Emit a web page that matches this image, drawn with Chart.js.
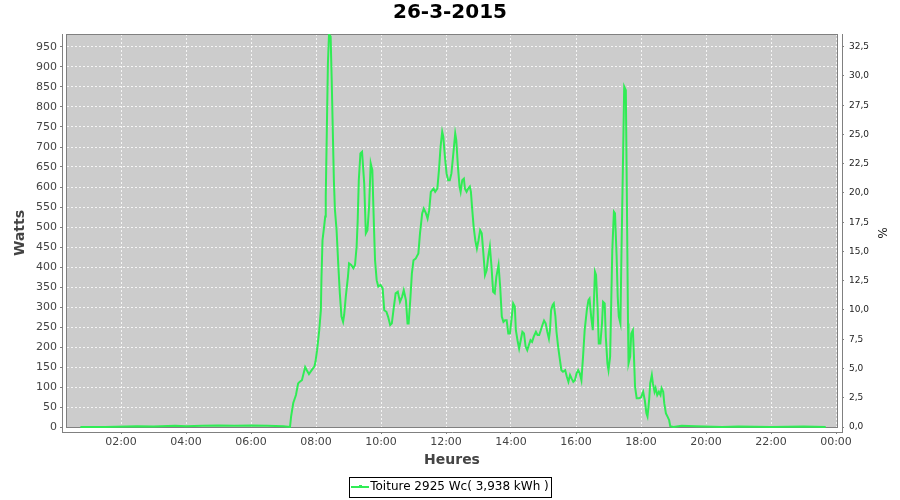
<!DOCTYPE html>
<html>
<head>
<meta charset="utf-8">
<script src="https://cdn.jsdelivr.net/npm/chart.js@4.4.1/dist/chart.umd.min.js"></script>
<style>
html,body{margin:0;padding:0;background:#ffffff;}
#wrap{width:900px;height:500px;}
</style>
</head>
<body>
<div id="wrap"><canvas id="c" width="900" height="500"></canvas></div>
<script>
const chartTitle = '26-3-2015';
const seriesLabel = 'Toiture 2925 Wc( 3,938 kWh )';
const peakPower = 2925; // Wc, 100 % on the right axis
const xTitle = 'Heures';
const yTitle = 'Watts';
const y2Title = '%';

const times = [
 '00:45','01:30','02:30','03:00','03:40','04:00','04:30','05:00','05:30','06:00','06:30','07:00',
 '07:12','07:14','07:18','07:23','07:27','07:30','07:34','07:40','07:43','07:47','07:52','07:57','07:59',
 '08:02','08:04','08:06','08:09','08:10','08:12','08:15','08:17','08:18','08:20','08:22','08:24','08:27','08:29',
 '08:31','08:33','08:35','08:38','08:41','08:44','08:47','08:50','08:52','08:55','08:59',
 '09:01','09:05','09:09','09:12','09:15','09:17','09:19','09:22','09:25','09:29','09:32','09:35','09:38','09:41','09:44','09:47','09:49','09:52','09:55','09:59',
 '10:03','10:06','10:10','10:13','10:17','10:20','10:23','10:27','10:31','10:35','10:39','10:42','10:46','10:49','10:51','10:54','10:57',
 '11:00','11:04','11:09','11:12','11:16','11:19','11:23','11:26','11:29','11:32','11:37','11:40','11:44','11:47','11:50','11:53','11:55','11:58',
 '12:01','12:04','12:07','12:10','12:13','12:17','12:19','12:22','12:25','12:27','12:30','12:33','12:35','12:38','12:41','12:44','12:46','12:48','12:51','12:54','12:57',
 '13:00','13:03','13:06','13:09','13:12','13:15','13:18','13:21','13:24','13:27','13:30','13:33','13:37','13:40','13:43','13:46','13:49','13:52','13:55','13:58',
 '14:01','14:04','14:07','14:09','14:12','14:15','14:18','14:21','14:24','14:27','14:30','14:33','14:36','14:39','14:42','14:46','14:49','14:52','14:55','14:58',
 '15:01','15:04','15:07','15:10','15:12','15:14','15:17','15:19','15:22','15:24','15:27','15:30','15:33','15:36','15:40','15:43','15:46','15:49','15:52','15:55','15:58',
 '16:01','16:04','16:07','16:10','16:13','16:16','16:20','16:23','16:25','16:28','16:31','16:33','16:35','16:37','16:40','16:42','16:45','16:48','16:50','16:53','16:55','16:58',
 '17:00','17:03','17:05','17:07','17:10','17:12','17:15','17:17','17:19','17:22','17:24','17:27','17:29','17:32','17:34','17:36','17:37','17:40','17:42','17:45','17:47','17:49','17:52','17:56',
 '18:00','18:04','18:07','18:10','18:12','18:15','18:17','18:20','18:22','18:25','18:27','18:30','18:33','18:36','18:38','18:41','18:43','18:46','18:49','18:52','18:54',
 '19:00','19:15','19:40','20:30','21:00','22:00','23:00','23:41'
];
const watts = [
 0,0,2,1,3,2,3,4,3,4,3,2,
 0,26,60,80,109,113,117,150,142,132,142,151,163,
 192,217,242,292,367,467,501,526,576,742,909,982,976,867,
 742,617,542,492,409,334,276,263,280,326,376,
 409,405,397,405,451,517,617,684,688,609,484,492,551,659,642,501,417,367,351,355,
 347,292,288,276,255,259,292,334,338,313,326,342,317,259,259,317,384,
 417,421,434,484,534,546,534,521,542,588,596,588,596,642,701,738,726,676,
 634,617,617,634,676,734,717,651,601,588,617,621,596,588,596,601,588,551,501,467,446,
 467,492,484,434,380,392,426,451,401,338,334,376,405,351,276,263,267,267,234,234,
 270,309,301,242,217,196,217,238,234,201,192,205,217,213,226,238,230,230,242,255,
 266,259,238,221,242,292,305,309,276,238,201,171,142,138,142,126,113,130,121,113,117,
 134,142,134,117,176,242,292,317,321,276,242,309,388,380,292,209,209,259,313,309,226,159,
 142,176,309,442,538,534,426,326,276,259,442,684,851,842,559,259,159,176,234,242,176,101,72,72,
 74,88,67,34,26,67,109,130,109,88,97,80,88,80,97,88,59,34,26,17,2,
 0,3,2,0,1,0,1,0
];
const wattTicks = [0,50,100,150,200,250,300,350,400,450,500,550,600,650,700,750,800,850,900,950];
const percentTicks = [0,2.5,5,7.5,10,12.5,15,17.5,20,22.5,25,27.5,30,32.5];
const hourTicks = ['02:00','04:00','06:00','08:00','10:00','12:00','14:00','16:00','18:00','20:00','22:00','00:00'];

const lineColor = '#30ec55';

function toMinutes(s, isTick) {
  const p = s.split(':');
  let m = parseInt(p[0], 10) * 60 + parseInt(p[1], 10);
  if (isTick && m === 0) m = 1440;
  return m;
}
const points = times.map((t, i) => ({ x: toMinutes(t, false), y: watts[i] }));
const hourTickValues = hourTicks.map(t => toMinutes(t, true));

// geometry of the reference: 65 px per 2 h, 00:00 at x=56 ; 0 W at y=427, 0.4 px per W
const X_MIN = (62 - 56) / 32.5 * 60;
const X_MAX = (842 - 56) / 32.5 * 60;
const Y_MIN = -12.5;
const Y_MAX = 982.5;

const plotBg = {
  id: 'plotBg',
  beforeDraw(chart) {
    const ctx = chart.ctx;
    const a = chart.chartArea;
    ctx.save();
    ctx.fillStyle = '#ffffff';
    ctx.fillRect(0, 0, chart.width, chart.height);
    ctx.fillStyle = '#cccccc';
    ctx.fillRect(a.left + 4, a.top, (a.right - 4) - (a.left + 4), (a.bottom - 4) - a.top);
    ctx.restore();
  },
  beforeDatasetsDraw(chart) {
    const ctx = chart.ctx;
    const a = chart.chartArea;
    ctx.save();
    ctx.strokeStyle = '#808080';
    ctx.lineWidth = 1;
    ctx.strokeRect(a.left + 4.5, a.top + 0.5, (a.right - 4) - (a.left + 4) - 1, (a.bottom - 4) - a.top - 1);
    ctx.restore();
  },
  afterDraw(chart) {
    const lg = chart.legend;
    if (!lg || !lg.legendHitBoxes || !lg.legendHitBoxes.length) return;
    const hb = lg.legendHitBoxes[0];
    const ctx = chart.ctx;
    ctx.save();
    ctx.strokeStyle = '#000000';
    ctx.lineWidth = 1;
    ctx.strokeRect(Math.round(hb.left - 2) + 0.5, Math.round(hb.top - 4) + 0.5, Math.round(hb.width + 4), 20);
    const cy = Math.round(hb.top + hb.height / 2);
    ctx.fillStyle = lineColor;
    ctx.fillRect(Math.round(hb.left), cy - 1, 18, 2);
    ctx.fillRect(Math.round(hb.left + 8), cy - 2, 3, 3);
    ctx.restore();
  }
};

new Chart(document.getElementById('c'), {
  type: 'line',
  data: {
    datasets: [{
      label: seriesLabel,
      data: points,
      borderColor: lineColor,
      backgroundColor: lineColor,
      borderWidth: 2,
      pointRadius: 0,
      tension: 0,
      fill: false,
      yAxisID: 'y'
    }]
  },
  options: {
    responsive: false,
    animation: false,
    devicePixelRatio: 1,
    layout: { padding: { left: 0, right: 0, top: 0, bottom: -3 } },
    plugins: {
      title: {
        display: true,
        text: chartTitle,
        color: '#000000',
        font: { family: 'DejaVu Sans', size: 20, weight: 'bold' },
        padding: { top: 1, bottom: 9 }
      },
      legend: {
        display: true,
        position: 'bottom',
        labels: {
          font: { family: 'DejaVu Sans', size: 12 },
          color: '#333333',
          boxWidth: 13,
          boxHeight: 2,
          padding: 8,
          generateLabels: (chart) => [{
            text: seriesLabel,
            fillStyle: 'rgba(0,0,0,0)',
            strokeStyle: 'rgba(0,0,0,0)',
            lineWidth: 0,
            hidden: false,
            datasetIndex: 0
          }]
        }
      },
      tooltip: { enabled: false }
    },
    scales: {
      x: {
        type: 'linear',
        position: 'bottom',
        min: X_MIN,
        max: X_MAX,
        afterBuildTicks: (scale) => { scale.ticks = hourTickValues.map(v => ({ value: v })); },
        afterFit: (scale) => { scale.height = 41; },
        ticks: {
          callback: (v, i) => hourTicks[i],
          font: { family: 'DejaVu Sans', size: 11 },
          color: '#444444',
          padding: 2,
          maxRotation: 0,
          autoSkip: false
        },
        grid: {
          color: 'rgba(255,255,255,0.8)',
          lineWidth: 1,
          tickLength: 2,
          tickColor: '#808080',
          tickBorderDash: []
        },
        border: { display: true, color: '#808080', width: 1, dash: [2, 2] },
        title: {
          display: true,
          text: xTitle,
          color: '#444444',
          font: { family: 'DejaVu Sans', size: 14, weight: 'bold' },
          padding: { top: 0, bottom: 4.6 }
        }
      },
      y: {
        type: 'linear',
        position: 'left',
        min: Y_MIN,
        max: Y_MAX,
        afterBuildTicks: (scale) => { scale.ticks = wattTicks.map(v => ({ value: v })); },
        afterFit: (scale) => { scale.width = 62; },
        ticks: {
          callback: (v) => String(v),
          font: { family: 'DejaVu Sans', size: 11 },
          color: '#444444',
          padding: 3,
          autoSkip: false
        },
        grid: {
          color: 'rgba(255,255,255,0.8)',
          lineWidth: 1,
          tickLength: 2,
          tickColor: '#808080',
          tickBorderDash: []
        },
        border: { display: true, color: '#808080', width: 1, dash: [2, 2] },
        title: {
          display: true,
          text: yTitle,
          color: '#444444',
          font: { family: 'DejaVu Sans', size: 14, weight: 'bold' },
          padding: { top: 12, bottom: 0 }
        }
      },
      y2: {
        type: 'linear',
        position: 'right',
        min: Y_MIN / peakPower * 100,
        max: Y_MAX / peakPower * 100,
        afterBuildTicks: (scale) => { scale.ticks = percentTicks.map(v => ({ value: v })); },
        afterFit: (scale) => { scale.width = 58; },
        ticks: {
          callback: (v) => v.toFixed(1).replace('.', ','),
          font: { family: 'DejaVu Sans', size: 9 },
          color: '#222222',
          padding: 5,
          autoSkip: false
        },
        grid: {
          drawOnChartArea: false,
          tickLength: 2,
          tickColor: '#808080',
          tickBorderDash: []
        },
        border: { display: true, color: '#808080', width: 1 },
        title: {
          display: true,
          text: y2Title,
          color: '#222222',
          font: { family: 'DejaVu Sans', size: 12 },
          padding: { top: 12, bottom: 0 }
        }
      }
    }
  },
  plugins: [plotBg]
});
</script>
</body>
</html>
